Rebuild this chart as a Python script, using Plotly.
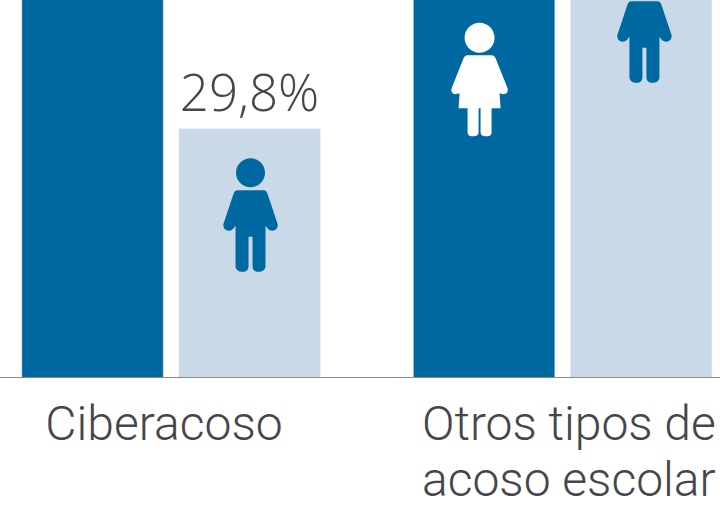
import plotly.graph_objects as go

categorias = ['<span style="font-size:48px">Ciberacoso</span>',
              '<span style="font-size:48px">Otros tipos de</span><br><span style="font-size:48px">acoso escolar</span>']
posiciones = [0, 1]
posiciones_etiquetas = [-0.018, 1.016]
mujeres = [70.2, 46.1]
hombres = [29.8, 53.9]
etiquetas_hombres = ['29,8%', '']
altura_icono_mujeres = [62.0, 35.6]
altura_icono_hombres = [19.4, 42.0]
desvio_icono_mujeres = [-0.2, -0.212]
desvio_icono_hombres = [0.203, 0.209]

AZUL = '#0068a1'
AZUL_CLARO = '#c9d9e8'
TEXTO = '#45464a'

# iconos en pixeles, relativos al centro de la figura
CABEZA_H = 'M-14.5,43 C-14.5,51 -8,57.5 0,57.5 C8,57.5 14.5,51 14.5,43 C14.5,35 8,28.5 0,28.5 C-8,28.5 -14.5,35 -14.5,43 Z'
CUERPO_H = ('M-13,25.5 L13,25.5 C15,25.5 16,24.5 17,22 L27,-8 C28,-12 25,-15 22,-15 C19,-15 17,-13 15,-10 '
            'L15,-50 C15,-54 12,-56 8,-56 C4,-56 2,-54 2,-50 L2,-21 L-2,-21 L-2,-50 C-2,-54 -4,-56 -8,-56 '
            'C-12,-56 -15,-54 -15,-50 L-15,-10 C-17,-13 -19,-15 -22,-15 C-25,-15 -28,-12 -27,-8 L-17,22 '
            'C-16,24.5 -15,25.5 -13,25.5 Z')
CABEZA_M = 'M-15,42.5 C-15,51 -8,57.5 0,57.5 C8,57.5 15,51 15,42.5 C15,34 8,27.5 0,27.5 C-8,27.5 -15,34 -15,42.5 Z'
CUERPO_M = ('M-12,25 L12,25 C14,25 15,24 16,22 L28,-8 C29,-11 27,-14 24,-14 L20,-13 L21,-28 L12,-28 '
            'L12,-52 C12,-55 10,-56 7,-56 C3,-56 1,-55 1,-52 L1,-28 L-1,-28 L-1,-52 C-1,-55 -3,-56 -7,-56 '
            'C-10,-56 -12,-55 -12,-52 L-12,-28 L-21,-28 L-20,-13 L-24,-14 C-27,-14 -29,-11 -28,-8 L-16,22 '
            'C-15,24 -14,25 -12,25 Z')


def icono(x, y, trazo, color):
    return dict(type='path', xref='x', yref='y', xsizemode='pixel', ysizemode='pixel',
                xanchor=x, yanchor=y, path=trazo, fillcolor=color, line_width=0)


fig = go.Figure()
fig.add_trace(go.Bar(x=posiciones, y=mujeres, name='Mujeres', marker_color=AZUL))
fig.add_trace(go.Bar(x=posiciones, y=hombres, name='Hombres', marker_color=AZUL_CLARO,
                     text=etiquetas_hombres, textposition='outside', cliponaxis=True,
                     constraintext='none',
                     textfont=dict(family='Open Sans', size=51, color=TEXTO, weight=300)))

iconos = []
for i, x in enumerate(posiciones):
    iconos.append(icono(x + desvio_icono_mujeres[i], altura_icono_mujeres[i], CABEZA_M + ' ' + CUERPO_M, 'white'))
    iconos.append(icono(x + desvio_icono_hombres[i], altura_icono_hombres[i], CABEZA_H + ' ' + CUERPO_H, AZUL))

fig.update_layout(
    width=720,
    height=515,
    margin=dict(l=0, r=0, t=0, b=137),
    paper_bgcolor='white',
    plot_bgcolor='white',
    showlegend=False,
    barmode='group',
    bargap=0.198,
    bargroupgap=0.0987,
    shapes=iconos,
    xaxis=dict(range=[-0.4368, 1.402], tickmode='array', tickvals=posiciones_etiquetas, ticktext=categorias,
               showgrid=False, zeroline=False, showline=False, ticks='outside', ticklen=9,
               tickcolor='rgba(0,0,0,0)',
               tickfont=dict(family='Roboto', size=43, color=TEXTO, weight=300)),
    yaxis=dict(range=[0, 45.2], visible=False),
)
fig.add_hline(y=0, line_color='#8a8a8a', line_width=2)

fig.write_html("out.html", config={'displayModeBar': False},
               post_script="document.body.style.margin='0';")
